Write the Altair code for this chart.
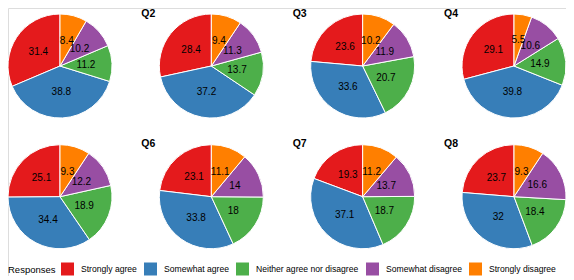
import math
import altair as alt
import pandas as pd

questions = ["Q1", "Q2", "Q3", "Q4", "Q5", "Q6", "Q7", "Q8"]
responses = ["Strongly agree", "Somewhat agree", "Neither agree nor disagree",
             "Somewhat disagree", "Strongly disagree"]
colors = ["#e41a1c", "#377eb8", "#4daf4a", "#984ea3", "#ff7f00"]

strongly_agree = [31.4, 28.4, 23.6, 29.1, 25.1, 23.1, 19.3, 23.7]
somewhat_agree = [38.8, 37.2, 33.6, 39.8, 34.4, 33.8, 37.1, 32]
neither = [11.2, 13.7, 20.7, 14.9, 18.9, 18, 18.7, 18.4]
somewhat_disagree = [10.2, 11.3, 11.9, 10.6, 12.2, 14, 13.7, 16.6]
strongly_disagree = [8.4, 9.4, 10.2, 5.5, 9.3, 11.1, 11.2, 9.3]

series = [strongly_agree, somewhat_agree, neither, somewhat_disagree, strongly_disagree]

rows = []
for qi, q in enumerate(questions):
    for ri, resp in enumerate(responses):
        rows.append({"question": q, "col": qi % 4, "row": qi // 4,
                     "response": resp, "rank": ri, "value": series[ri][qi]})
df = pd.DataFrame(rows)
titles_df = pd.DataFrame({"question": questions,
                          "col": [i % 4 for i in range(len(questions))],
                          "row": [i // 4 for i in range(len(questions))]})

xenc = alt.X("col:Q", scale=alt.Scale(domain=[0, 3], range=[52, 506]), axis=None)
yenc = alt.Y("row:Q", scale=alt.Scale(domain=[0, 1], range=[58, 188.7]), axis=None)
theta_scale = alt.Scale(domain=[0, 1], range=[0, 2 * math.pi])

base = alt.Chart(df).transform_joinaggregate(
    total="sum(value)", groupby=["question"]
).transform_window(
    cum="sum(value)", groupby=["question"],
    sort=[alt.SortField("rank", order="descending")], frame=[None, 0]
).transform_calculate(
    start="(datum.cum - datum.value) / datum.total",
    end="datum.cum / datum.total",
    mid="(datum.cum - datum.value / 2) / datum.total",
)

arcs = base.mark_arc(outerRadius=52, stroke="white", strokeWidth=1).encode(
    x=xenc, y=yenc,
    theta=alt.Theta("start:Q", scale=theta_scale, stack=None),
    theta2="end:Q",
    color=alt.Color("response:N", scale=alt.Scale(domain=responses, range=colors),
                    legend=alt.Legend(orient="none", legendX=0, legendY=254.5,
                                      direction="horizontal", title="Responses",
                                      titleOrient="left", symbolType="square",
                                      symbolSize=169, symbolStrokeWidth=0,
                                      labelFontSize=8.6, titleFontSize=9.5,
                                      titleFontWeight="normal", labelOffset=7,
                                      columnPadding=7, titlePadding=5, padding=0,
                                      titleColor="black", labelColor="black")),
)

labels = base.mark_text(radius=26, fontSize=10, color="black").encode(
    x=xenc, y=yenc,
    theta=alt.Theta("mid:Q", scale=theta_scale, stack=None),
    text=alt.Text("value:Q"),
)

titles = alt.Chart(titles_df).mark_text(
    dx=-70, dy=-49.5, align="left", baseline="alphabetic",
    fontWeight="bold", fontSize=10.5, color="black"
).encode(x=xenc, y=yenc, text="question:N")

chart = alt.layer(arcs, labels, titles).properties(
    width=558, height=268, autosize="none", padding=0
).configure_view(stroke=None).configure(font="Liberation Sans")

chart.save("out.html", embed_options={"renderer": "svg", "actions": False})
